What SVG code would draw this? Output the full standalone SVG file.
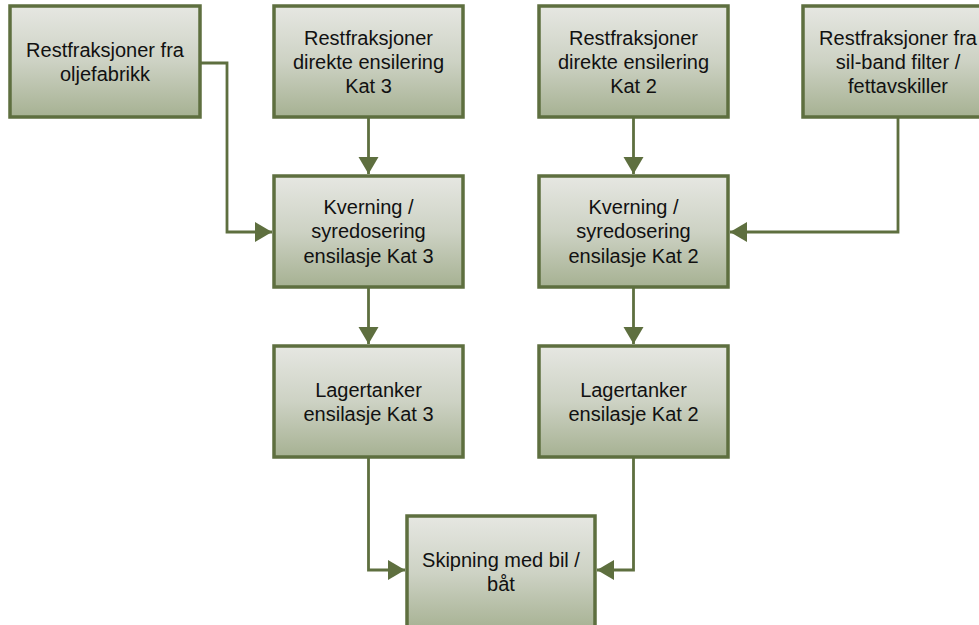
<svg xmlns="http://www.w3.org/2000/svg" width="979" height="625" viewBox="0 0 979 625">
  <defs>
    <linearGradient id="boxFill" x1="0" y1="0" x2="0" y2="1">
      <stop offset="0" stop-color="#e6e7e2"/>
      <stop offset="0.5" stop-color="#cdd2c4"/>
      <stop offset="1" stop-color="#a6b192"/>
    </linearGradient>
    <marker id="arrow" markerUnits="userSpaceOnUse" markerWidth="20" markerHeight="22" refX="17" refY="10" orient="auto">
      <path d="M0,0 L17,10 L0,20 Z" fill="#5e6f3f"/>
    </marker>
  </defs>
  <style>
    .box { fill: url(#boxFill); stroke: #5e6f3f; stroke-width: 3.5; }
    .lbl { font-family: "Liberation Sans", Arial, sans-serif; font-size: 20px; fill: #111111; text-anchor: middle; }
    .conn { fill: none; stroke: #5e6f3f; stroke-width: 2.8; marker-end: url(#arrow); }
  </style>
  <rect width="979" height="625" fill="#ffffff"/>

  <g id="connectors">
    <path class="conn" d="M201,63 H227 V232 H272"/>
    <path class="conn" d="M368.5,118 V174"/>
    <path class="conn" d="M633.5,118 V174"/>
    <path class="conn" d="M898,118 V232 H730"/>
    <path class="conn" d="M368.5,288 V344"/>
    <path class="conn" d="M633.5,288 V344"/>
    <path class="conn" d="M368.5,458 V570 H405"/>
    <path class="conn" d="M633.5,458 V570 H597"/>
  </g>

  <g id="rest-oljefabrikk">
    <rect class="box" x="10" y="6" width="190" height="111"/>
    <text class="lbl" x="105" y="57">Restfraksjoner fra</text>
    <text class="lbl" x="105" y="81">oljefabrikk</text>
  </g>

  <g id="rest-direkte-kat3">
    <rect class="box" x="274" y="6" width="189" height="111"/>
    <text class="lbl" x="368.5" y="45">Restfraksjoner</text>
    <text class="lbl" x="368.5" y="69">direkte ensilering</text>
    <text class="lbl" x="368.5" y="93">Kat 3</text>
  </g>

  <g id="rest-direkte-kat2">
    <rect class="box" x="539" y="6" width="189" height="111"/>
    <text class="lbl" x="633.5" y="45">Restfraksjoner</text>
    <text class="lbl" x="633.5" y="69">direkte ensilering</text>
    <text class="lbl" x="633.5" y="93">Kat 2</text>
  </g>

  <g id="rest-silband">
    <rect class="box" x="803" y="6" width="190" height="111"/>
    <text class="lbl" x="898" y="45">Restfraksjoner fra</text>
    <text class="lbl" x="898" y="69">sil-band filter /</text>
    <text class="lbl" x="898" y="93">fettavskiller</text>
  </g>

  <g id="kverning-kat3">
    <rect class="box" x="274" y="176" width="189" height="111"/>
    <text class="lbl" x="368.5" y="214">Kverning /</text>
    <text class="lbl" x="368.5" y="238">syredosering</text>
    <text class="lbl" x="368.5" y="263">ensilasje Kat 3</text>
  </g>

  <g id="kverning-kat2">
    <rect class="box" x="539" y="176" width="189" height="111"/>
    <text class="lbl" x="633.5" y="214">Kverning /</text>
    <text class="lbl" x="633.5" y="238">syredosering</text>
    <text class="lbl" x="633.5" y="263">ensilasje Kat 2</text>
  </g>

  <g id="lager-kat3">
    <rect class="box" x="274" y="346" width="189" height="111"/>
    <text class="lbl" x="368.5" y="397">Lagertanker</text>
    <text class="lbl" x="368.5" y="421">ensilasje Kat 3</text>
  </g>

  <g id="lager-kat2">
    <rect class="box" x="539" y="346" width="189" height="111"/>
    <text class="lbl" x="633.5" y="397">Lagertanker</text>
    <text class="lbl" x="633.5" y="421">ensilasje Kat 2</text>
  </g>

  <g id="skipning">
    <rect class="box" x="407" y="516" width="188" height="115"/>
    <text class="lbl" x="501" y="567">Skipning med bil /</text>
    <text class="lbl" x="501" y="591">båt</text>
  </g>
</svg>
